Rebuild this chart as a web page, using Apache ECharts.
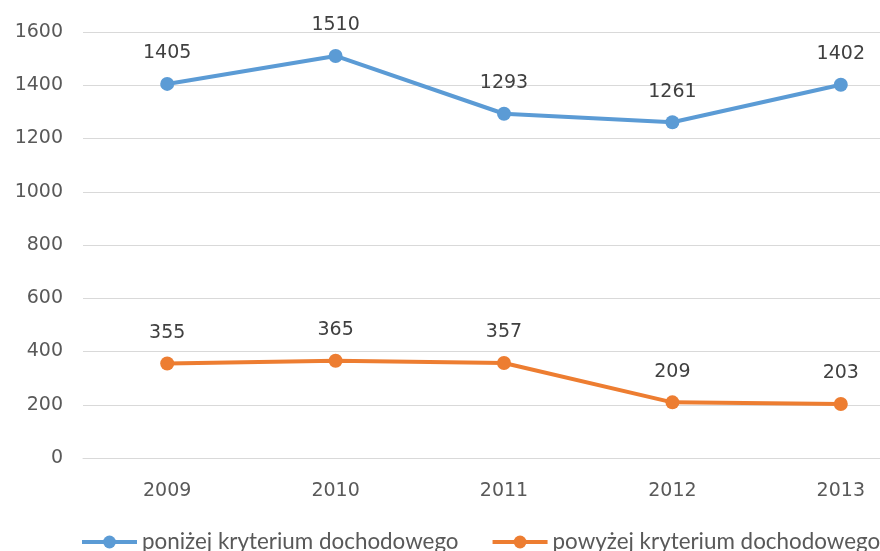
<!DOCTYPE html>
<html>
<head>
<meta charset="utf-8">
<title>Kryterium dochodowe 2009-2013</title>
<script src="https://cdn.jsdelivr.net/npm/echarts@6/dist/echarts.min.js"></script>
<style>
    html, body {
        margin: 0;
        padding: 0;
        background: #fff;
        overflow: hidden;
    }

    /* the plot runs past the right edge of the picture, as in the source */
    #chart {
        width: 925px;
        height: 551px;
    }
</style>
</head>
<body>
<div id="chart"></div>
<script>
    const years = ['2009', '2010', '2011', '2012', '2013']
    const ponizej = [1405, 1510, 1293, 1261, 1402]
    const powyzej = [355, 365, 357, 209, 203]
    const yTicks = { min: 0, max: 1600, interval: 200 }

    const textColor = '#595959'
    const labelFont = 'DejaVu Sans'

    let chart = echarts.init(document.getElementById('chart'))
    let option = {
        animation: false,
        grid: {
            left: 83,
            right: 0,
            top: 32,
            bottom: 93
        },
        legend: {
            left: 80,
            top: 531,
            padding: 0,
            itemWidth: 55,
            itemHeight: 16,
            itemGap: 32,
            lineStyle: { width: 4 },
            textStyle: {
                fontFamily: 'Lato',
                fontSize: 22.4,
                color: textColor
            }
        },
        xAxis: {
            type: 'category',
            data: years,
            boundaryGap: true,
            axisLine: {
                lineStyle: { color: '#d9d9d9' }
            },
            axisTick: { show: false },
            axisLabel: {
                margin: 24,
                fontFamily: labelFont,
                fontSize: 19,
                color: textColor
            }
        },
        yAxis: {
            type: 'value',
            min: yTicks.min,
            max: yTicks.max,
            interval: yTicks.interval,
            axisLine: { show: false },
            axisTick: { show: false },
            splitLine: {
                lineStyle: { color: '#d9d9d9', width: 1 }
            },
            axisLabel: {
                margin: 20,
                fontFamily: labelFont,
                fontSize: 19,
                color: textColor,
                formatter: function (v) {
                    return String(v)
                }
            }
        },
        series: [
            {
                name: 'poniżej kryterium dochodowego',
                type: 'line',
                data: ponizej,
                symbol: 'circle',
                symbolSize: 14,
                color: '#5b9bd5',
                lineStyle: { width: 4 },
                label: {
                    show: true,
                    position: 'top',
                    distance: 14,
                    fontFamily: labelFont,
                    fontSize: 19,
                    color: '#404040'
                }
            },
            {
                name: 'powyżej kryterium dochodowego',
                type: 'line',
                data: powyzej,
                symbol: 'circle',
                symbolSize: 14,
                color: '#ed7d31',
                lineStyle: { width: 4 },
                label: {
                    show: true,
                    position: 'top',
                    distance: 14,
                    fontFamily: labelFont,
                    fontSize: 19,
                    color: '#404040'
                }
            }
        ]
    }
    chart.setOption(option)
</script>
</body>
</html>
